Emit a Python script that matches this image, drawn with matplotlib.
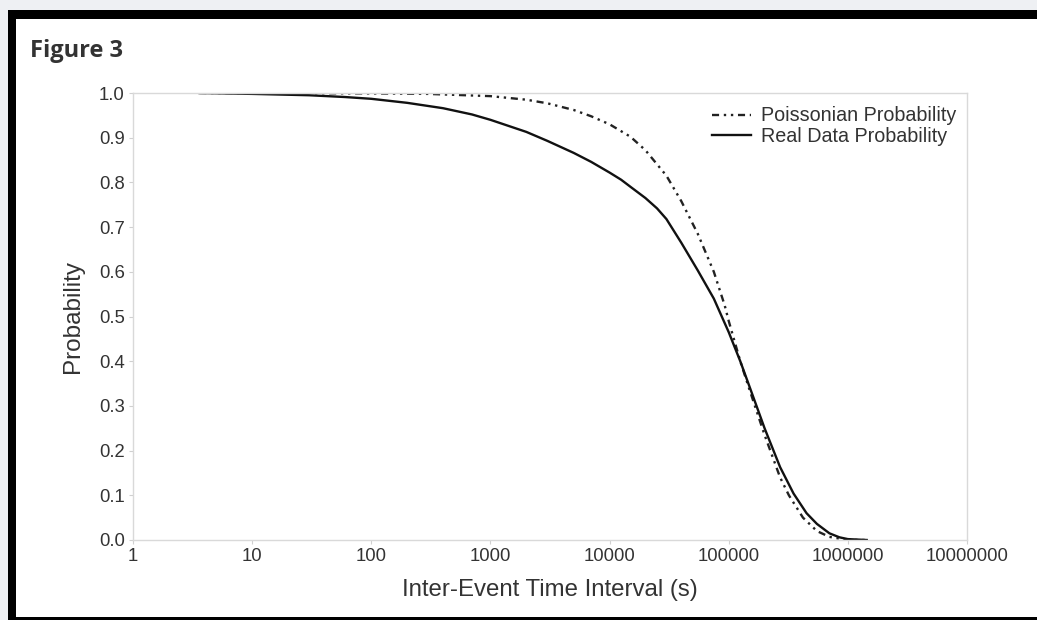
"""Figure 3: survival probability of inter-event time intervals, real vs Poissonian."""
import matplotlib
matplotlib.use("Agg")
import matplotlib.pyplot as plt
from matplotlib.patches import Rectangle

# values
real_t = [3.6, 10, 30, 60, 100, 200, 400, 700, 1000, 2000, 3000, 5000, 7000,
          10000, 12500, 15000, 20000, 25000, 30000, 40000, 55000, 75000, 100000,
          125000, 150000, 200000, 270000, 350000, 450000, 550000, 700000,
          850000, 1000000, 1440000]
real_p = [1.0, 0.998, 0.995, 0.991, 0.987, 0.978, 0.966, 0.952, 0.94, 0.913,
          0.893, 0.866, 0.846, 0.822, 0.806, 0.79, 0.765, 0.742, 0.718, 0.665,
          0.603, 0.54, 0.465, 0.40, 0.342, 0.25, 0.163, 0.104, 0.06, 0.036,
          0.015, 0.006, 0.002, 0.0]

poisson_t = [3.6, 10, 100, 300, 1000, 2000, 3000, 5000, 7000, 10000, 15000,
             20000, 30000, 40000, 55000, 75000, 92500, 100000, 125000, 150000,
             200000, 270000, 320000, 420000, 550000, 700000, 900000, 1200000,
             1440000]
poisson_p = [1.0, 1.0, 0.999, 0.998, 0.993, 0.985, 0.977, 0.962, 0.948, 0.93,
             0.902, 0.872, 0.815, 0.758, 0.685, 0.60, 0.525, 0.49, 0.40, 0.335,
             0.235, 0.14, 0.10, 0.05, 0.02, 0.007, 0.002, 0.0, 0.0]

x_ticks = [1, 10, 100, 1000, 10000, 100000, 1000000, 10000000]
y_ticks = [0.0, 0.1, 0.2, 0.3, 0.4, 0.5, 0.6, 0.7, 0.8, 0.9, 1.0]

W, H = 1037, 620
fig = plt.figure(figsize=(W / 100, H / 100), dpi=100)
fig.patch.set_facecolor("#eef0f3")


def _px_rect(x0, y0, x1, y1, color):
    # rectangle given in top-left pixel coordinates, kept behind the axes
    fig.patches.append(Rectangle((x0 / W, 1 - y1 / H), (x1 - x0) / W, (y1 - y0) / H,
                                 transform=fig.transFigure, facecolor=color,
                                 edgecolor="none", zorder=-10))


_px_rect(8, 10, W, H, "#000000")
_px_rect(16, 19, W, 617, "#ffffff")

fig.text(30 / W, 1 - 51 / H, "Figure 3", fontsize=17, fontweight="bold",
         family="Open Sans", color="#333333", va="center", ha="left")

ax = fig.add_axes([133 / W, 80 / H, 834 / W, 447 / H])
ax.set_facecolor("white")
ax.plot(poisson_t, poisson_p, color="#222222", lw=1.7,
        linestyle=(0, (3, 2, 1, 2, 1, 2)), label="Poissonian Probability")
ax.plot(real_t, real_p, color="#111111", lw=1.7, label="Real Data Probability")

ax.set_xscale("log")
ax.set_xlim(1, 1e7)
ax.set_ylim(0, 1.0)
ax.minorticks_off()
ax.set_xticks(x_ticks)
ax.set_xticklabels([str(v) for v in x_ticks])
ax.set_yticks(y_ticks)
ax.set_yticklabels([f"{v:.1f}" for v in y_ticks])

font = "Liberation Sans"
for lab in ax.get_xticklabels() + ax.get_yticklabels():
    lab.set_family(font)
    lab.set_fontsize(13.3)
    lab.set_color("#333333")
ax.tick_params(axis="both", length=3, width=0.8, color="#d0d0d0", pad=3)

for s in ax.spines.values():
    s.set_color("#d9d9d9")
    s.set_linewidth(1.0)

ax.set_xlabel("Inter-Event Time Interval (s)", family=font, fontsize=17.3,
              color="#333333", labelpad=10)
ax.set_ylabel("Probability", family=font, fontsize=17.5, color="#333333",
              labelpad=11)

leg = ax.legend(loc="upper right", frameon=False, prop={"family": font, "size": 14.2},
                handlelength=2.0, handletextpad=0.5, labelspacing=0.1,
                borderpad=0, borderaxespad=0, bbox_to_anchor=(0.987, 0.97))
for t in leg.get_texts():
    t.set_color("#333333")

fig.savefig("out.png", dpi=100, facecolor=fig.get_facecolor())
